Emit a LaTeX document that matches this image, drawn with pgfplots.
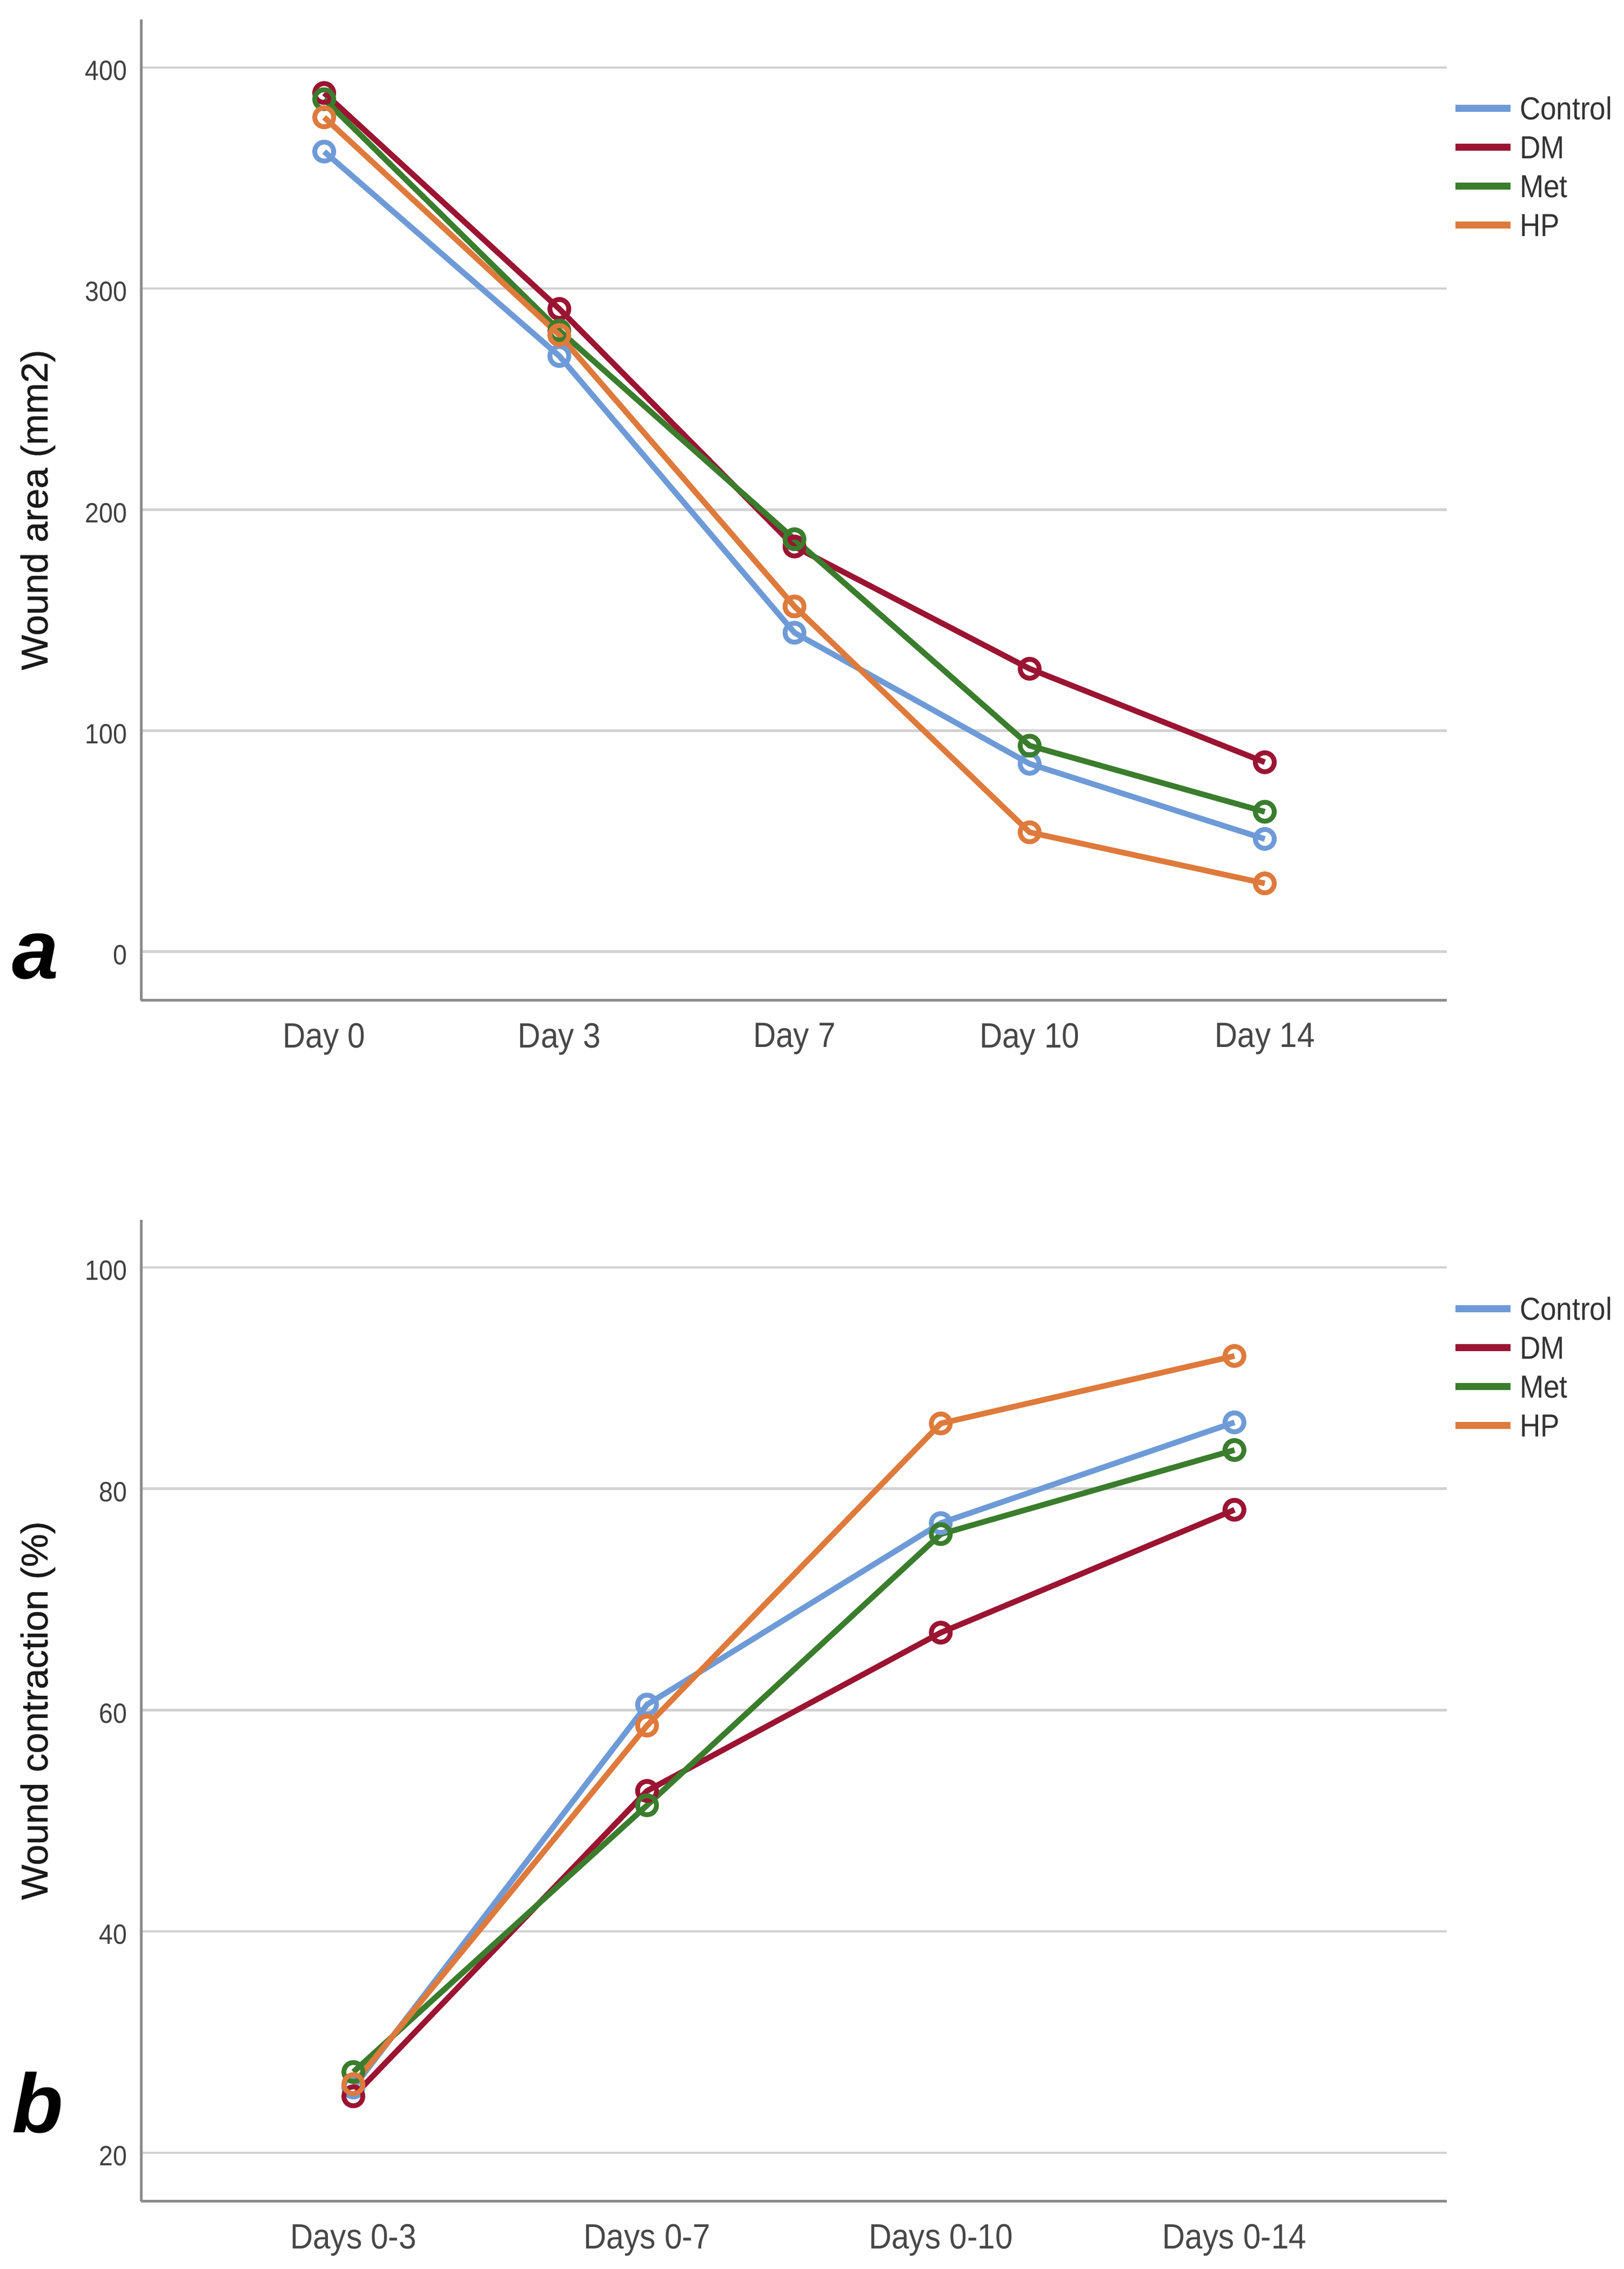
\documentclass[border=0pt]{standalone}
\usepackage{fontspec}
\setmainfont{Liberation Sans}
\newfontfamily\narrowfont[FakeStretch=0.9]{Liberation Sans}
\newfontfamily\labelfont[FakeBold=0.6]{Liberation Sans}
\usepackage{pgfplots}
\pgfplotsset{compat=1.18}

\definecolor{cControl}{RGB}{110,155,215}
\definecolor{cDM}{RGB}{155,20,50}
\definecolor{cMet}{RGB}{58,125,45}
\definecolor{cHP}{RGB}{222,122,60}

\pgfplotsset{
  panel/.style={
    scale only axis, clip=false,
    width=483.4pt,
    axis lines*=left,
    axis line style={draw=black!45, line width=1pt},
    major tick length=0pt,
    ymajorgrids,
    major grid style={draw=black!18, line width=0.9pt},
    /pgf/number format/assume math mode=true,
    yticklabel style={font=\narrowfont\fontsize{10.3}{12}\selectfont, text=black!75,
      anchor=east, inner sep=0pt, xshift=-5pt, yshift=-1.2pt},
    xticklabel style={font=\narrowfont\fontsize{13}{15}\selectfont, text=black!72,
      anchor=north, inner sep=0pt, yshift=-8.2pt},
    ylabel style={font=\labelfont\fontsize{13.8}{16}\selectfont, text=black!90,
      at={([xshift=-38.2pt]rel axis cs:0,0.5)}, anchor=center},
    legend style={at={(rel axis cs:1,1)}, anchor=north west, xshift=1.6pt, yshift=-28.4pt,
      draw=none, fill=none, inner sep=0pt, row sep=5.8pt, column sep=2.2pt,
      font=\narrowfont\fontsize{11.8}{14}\selectfont, text=black!80,
      nodes={inner sep=0pt, text height=8.6pt, text depth=0pt}},
    legend cell align=left,
    legend image code/.code={\draw[line width=2.6pt] (0pt,0pt) -- (20.4pt,0pt);},
    every axis plot/.append style={line width=2.1pt, line join=round, mark=o,
      mark size=3.5pt, mark options={line width=1.8pt, solid}},
  }
}

\begin{document}
\begin{tikzpicture}
\path[use as bounding box] (0,0) rectangle (601.2pt,840pt);

% a: wound area
\begin{axis}[panel,
    at={(52.2pt,469.6pt)}, anchor=south west,
    height=363.2pt,
    xmin=-0.779, xmax=4.774, ymin=-22.1, ymax=421.8,
    xtick={0,1,2,3,4},
    xticklabels={Day 0, Day 3, Day 7, Day 10, Day 14},
    ytick={0,100,200,300,400},
    ylabel={Wound area (mm2)},
]
\addplot[cControl] coordinates {(0,362) (1,269.5) (2,144.3) (3,85) (4,51)};
\addplot[cDM] coordinates {(0,388.5) (1,290.8) (2,183.3) (3,128) (4,85.7)};
\addplot[cMet] coordinates {(0,385.7) (1,281) (2,186.6) (3,93.2) (4,63.3)};
\addplot[cHP] coordinates {(0,377.5) (1,279) (2,156.2) (3,54) (4,30.9)};
\legend{Control, DM, Met, HP}
\node[anchor=base west, inner sep=0pt, font=\bfseries\itshape\fontsize{31}{31}\selectfont]
  at ([xshift=-47.8pt, yshift=8pt]rel axis cs:0,0) {a};
\end{axis}

% b: wound contraction
\begin{axis}[panel,
    at={(52.2pt,25pt)}, anchor=south west,
    height=363.4pt,
    xmin=-0.723, xmax=3.723, ymin=15.6, ymax=104.3,
    xtick={0,1,2,3},
    xticklabels={Days 0-3, Days 0-7, Days 0-10, Days 0-14},
    ytick={20,40,60,80,100},
    ylabel={Wound contraction (\%)},
]
\addplot[cControl] coordinates {(0,25.9) (1,60.5) (2,76.9) (3,86.0)};
\addplot[cDM] coordinates {(0,25.1) (1,52.7) (2,67.0) (3,78.1)};
\addplot[cMet] coordinates {(0,27.3) (1,51.4) (2,75.9) (3,83.5)};
\addplot[cHP] coordinates {(0,26.2) (1,58.6) (2,85.9) (3,92.0)};
\legend{Control, DM, Met, HP}
\node[anchor=base west, inner sep=0pt, font=\bfseries\itshape\fontsize{31}{31}\selectfont]
  at ([xshift=-47.8pt, yshift=25.4pt]rel axis cs:0,0) {b};
\end{axis}
\end{tikzpicture}
\end{document}
